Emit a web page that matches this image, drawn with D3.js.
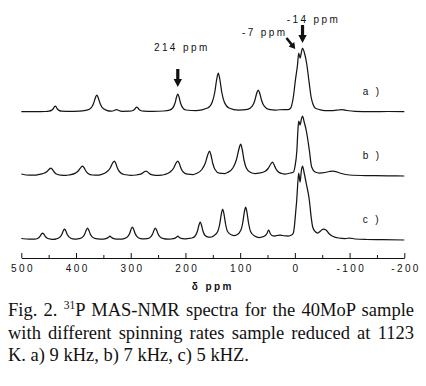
<!DOCTYPE html>
<html>
<head>
<meta charset="utf-8">
<script src="https://cdn.jsdelivr.net/npm/d3@7"></script>
<style>
  body { margin: 0; background: #fff; }
  svg { display: block; }
  .tick text, .lbl { font-family: "Liberation Sans", Arial, sans-serif; font-size: 10px; letter-spacing: 2.4px; fill: #111; }
  .axis path, .axis line { stroke: #111; }
  .caption { font-family: "Liberation Serif", "Times New Roman", serif; font-size: 18.5px; fill: #111; }
</style>
</head>
<body>
<svg id="chart" width="426" height="386"></svg>
<script>
// 31P MAS-NMR spectra, three spinning rates, stacked
const tickVals  = [500, 400, 300, 200, 100, 0, -100, -200];
const minorVals = [450, 350, 250, 150, 50, -50, -150];
const seriesKeys = ['a', 'b', 'c'];
const seriesLabels = ['a)', 'b)', 'c)'];

// [ppm, intensity]
const specA = [
  [500,0.3],[470,0.4],[455,0.5],
  [450,0.8],[445,1.6],[442,3],[439.6,5.2],[438,6],[436.4,5.2],[434,3],[431,1.6],[426,0.8],
  [410,0.6],[395,0.9],
  [380,1.8],[372,4.4],[368,8.5],[364.4,14.6],[362,17],[359.6,14.6],[356,8.5],[352,4.4],[344,1.7],
  [336,0.9],[330,1.5],[326,2.5],[322,1.5],[316,0.7],
  [302,0.8],[296,1.5],[293,2.6],[290.8,4.3],[289,5],[287.2,4.3],[285,2.6],[282,1.5],[276,0.8],
  [260,0.6],[240,1],
  [229,1.9],[222.5,4.7],[219,9],[216,15.5],[214,18],[212,15.5],[209,9],[205.5,4.7],[199,2],
  [180,1.5],
  [159.5,4],[151,10],[146.5,19.5],[142.6,33.5],[140,39],[137.4,33.5],[133.5,19.5],[129,10],[120.5,4],
  [103,1.8],
  [86.5,2.6],[78,5.8],[73.5,11],[69.6,19],[67,22],[64.4,19],[60.5,11],[56,5.8],[47.5,2.6],
  [35,2],[20,2.5],[12,2.5],[7.6,4],[2.8,15],[-1,32],[-5,48],[-7,59],[-9.5,54],[-12,60],[-14,64],
  [-17,60],[-21.7,48],[-25.5,32],[-29.7,15],[-33,8],[-37,4],[-45,2.5],[-55,1.5],
  [-70,1.5],[-80,2],[-86,2.3],[-95,1.5],[-110,0.7],[-140,0.4],[-170,0.5],[-200,0.3]
];

const specB = [
  [500,2],[485,0.8],[475,0.8],
  [470,1.2],[460,2.5],[454,4],[449,6.8],[446,8],[443.6,6.8],[440,4],[436,2],[428,0.8],
  [418,0.6],
  [412,1.2],[402,2.6],[396,5],[391,8.6],[388,10],[385.6,8.6],[382,5],[378,2.6],[370,1],
  [360,0.8],
  [354,1.5],[344,4],[338,7.5],[333,13],[330,15],[327.6,13],[324,7.5],[320,4],[312,1.5],
  [300,0.7],
  [290,1],[284,1.6],[279,2.6],[275,4.3],[272,5],[269.6,4.3],[266,2.6],[262,1.3],[254,0.6],
  [244,0.8],
  [238,1.5],[228,4],[222,7.5],[217,13],[214,15],[211.6,13],[208,7.5],[204,4],[196,1.8],
  [186,1.5],
  [180,2.5],[170,6.5],[164,12.5],[159,21.5],[156,25],[153.6,21.5],[150,12.5],[146,6.5],[138,2.8],
  [128,2.5],
  [123,3.5],[113,8.3],[107,16],[102,27.5],[99,32],[96.6,27.5],[93,16],[89,8.3],[81,3.5],
  [72,2.5],
  [65,3],[55,4.5],[49,7.5],[44,12],[41,14],[38.6,12],[35,7.5],[31,4.5],[24,2.5],
  [18,2],[8,3],[2.4,4],[0,9],[-3.7,26],[-5.5,45],[-7,55],[-9.5,51],[-12,57],[-14,60],[-17,54],
  [-21,45],[-26.4,26],[-30.7,9],[-37,4],[-45,3],
  [-55,3.5],[-63,4.5],[-70,5],[-77,4],[-85,2.5],[-100,1],[-130,0.4],[-170,0.2],[-200,0]
];

const specC = [
  [500,1.5],[485,0.8],
  [476,0.8],[469.5,1.8],[466,3.5],[463,6],[461,7],[459,6],[456,3.5],[452.5,1.8],[446,0.8],
  [441,0.6],
  [436,1.1],[429.5,2.9],[426,5.5],[423,9.5],[421,11],[419,9.5],[416,5.5],[412.5,2.9],[406,1.2],
  [400,1],
  [394,1.3],[387.5,3.1],[384,6],[381,10.3],[379,12],[377,10.3],[374,6],[370.5,3.1],[364,1.3],
  [357,1],
  [350,1],[344,1.6],[341,2.4],[338,4],[335,2.4],[332,1.6],[326,0.9],
  [320,0.8],
  [312,1.4],[305.5,3.4],[302,6.5],[299,11.2],[297,13],[295,11.2],[292,6.5],[288.5,3.4],[282,1.4],
  [276,1.2],
  [270,1.3],[263.5,3.1],[260,6],[257,10.3],[255,12],[253,10.3],[250,6],[246.5,3.1],[240,1.3],
  [232,0.8],
  [226,1],[220,1.6],[217,2.4],[214,4],[211,2.4],[208,1.6],[202,1.2],
  [195,1.5],
  [188,2],[181.5,4.7],[178,9],[175,15.5],[173,18],[171,15.5],[168,9],[164.5,4.7],[158,2.8],
  [152,3],
  [148.5,4],[141,8.5],[137.5,15.5],[134.2,26.7],[132,31],[129.8,26.7],[126.5,15.5],[123,8.5],[115.5,5],
  [111,4.5],
  [106.5,5],[99,9.5],[95.5,16.5],[92.2,28.4],[90,33],[87.8,28.4],[84.5,16.5],[81,8.6],[73.5,4],
  [65,2.5],
  [60,3],[54,4.5],[51,6.5],[48,10],[45,6.5],[42,4.5],
  [37,4],[32,4.5],[27,5],[22,4.5],[17,4.2],
  [12,4],[6,5],[2.8,7],[1,13],[-1.5,28],[-3.4,40],[-5.5,58],[-7,67],[-9.5,58],[-12,70],[-14,74],
  [-17,67],[-21,56],[-26.4,40],[-30,22],[-32.6,13],[-37,8.5],[-41.8,7],[-47,9],[-52,11],[-57,10],
  [-63,6],[-70,3.5],[-80,2],[-92,1.5],[-100,2],[-110,1],[-130,0.5],[-160,0.3],[-200,0]
];

const spectra = { a: specA, b: specB, c: specC };

// annotated peaks
const noteLabels = ['214 ppm', '-14 ppm', '-7 ppm'];

const captionLines = [
  'with different spinning rates sample reduced at 1123',
  'K. a) 9 kHz, b) 7 kHz, c) 5 kHZ.'
];

const svg = d3.select('#chart');

const x = d3.scaleLinear().domain([500, -200]).range([21.3, 404.3]);
const yBase = d3.scalePoint().domain(seriesKeys).range([112, 240]);
const yOf = k => d3.scaleLinear().domain([0, 100]).range([yBase(k), yBase(k) - 100]);

// spectra
const line = d3.line().curve(d3.curveMonotoneX);
seriesKeys.forEach((k, i) => {
    const y = yOf(k);
    svg.append('path')
        .datum(spectra[k])
        .attr('fill', 'none')
        .attr('stroke', '#151515')
        .attr('stroke-width', 1.25)
        .attr('stroke-linejoin', 'round')
        .attr('d', line.x(d => x(d[0])).y(d => y(d[1])));

    svg.append('text')
        .attr('class', 'lbl')
        .attr('x', x(-124))
        .attr('y', yBase(k) - 17)
        .text(seriesLabels[i].split('').join(' '));
});

// axis
const axisY = 258;
const gx = svg.append('g')
    .attr('class', 'axis')
    .attr('transform', `translate(0,${axisY})`)
    .call(d3.axisBottom(x).tickValues(tickVals).tickSizeInner(-5).tickSizeOuter(0).tickPadding(7)
        .tickFormat(d => d));
gx.selectAll('.tick text').attr('dx', '1.2');
svg.append('g')
    .attr('class', 'axis')
    .attr('transform', `translate(0,${axisY})`)
    .call(d3.axisBottom(x).tickValues(minorVals).tickSizeInner(-3).tickSizeOuter(0).tickFormat(''))
    .select('.domain').remove();

svg.append('text')
    .attr('class', 'lbl')
    .attr('x', (x(500) + x(-200)) / 2)
    .attr('y', axisY + 32)
    .attr('text-anchor', 'middle')
    .style('font-weight', 'bold')
    .text('\u03b4 ppm');

// arrows + notes
function downArrow(cx, tip) {
    const p = d3.path();
    p.moveTo(cx - 1.6, tip - 18);
    p.lineTo(cx + 1.6, tip - 18);
    p.lineTo(cx + 1.6, tip - 8);
    p.lineTo(cx + 4.2, tip - 8);
    p.lineTo(cx, tip);
    p.lineTo(cx - 4.2, tip - 8);
    p.lineTo(cx - 1.6, tip - 8);
    p.closePath();
    return p.toString();
}

const yA = yOf('a');
// 214 ppm
svg.append('path').attr('d', downArrow(x(214), yA(18) - 7)).attr('fill', '#111');
svg.append('text').attr('class', 'lbl')
    .attr('x', x(214) + 4).attr('y', yA(18) - 43)
    .attr('text-anchor', 'middle').text(noteLabels[0]);
// -14 ppm
svg.append('path').attr('d', downArrow(x(-14), yA(64) - 5)).attr('fill', '#111');
svg.append('text').attr('class', 'lbl')
    .attr('x', x(-14) + 11).attr('y', yA(64) - 25)
    .attr('text-anchor', 'middle').text(noteLabels[1]);
// -7 ppm, diagonal arrow
{
    const tx = x(-7) - 3.5, ty = yA(59) - 4;
    const ang = Math.atan2(11.3, 9);
    const g = svg.append('g').attr('transform', `translate(${tx},${ty}) rotate(${ang * 180 / Math.PI - 90})`);
    g.append('path').attr('fill', '#111')
        .attr('d', 'M-1.3,-14L1.3,-14L1.3,-6L3.6,-6L0,0L-3.6,-6L-1.3,-6Z');
    svg.append('text').attr('class', 'lbl')
        .attr('x', x(-7) - 34).attr('y', yA(59) - 17)
        .attr('text-anchor', 'middle').text(noteLabels[2]);
}

// caption
const capX = 8, capRight = 414, capY0 = 316, capDy = 22.5;
const cap1 = svg.append('text').attr('class', 'caption').attr('x', capX).attr('y', capY0);
cap1.append('tspan').text('Fig. 2. ');
cap1.append('tspan').attr('dy', -7).style('font-size', '11.5px').text('31');
cap1.append('tspan').attr('dy', 7).text('P MAS-NMR spectra for the 40MoP sample');
const cap2 = svg.append('text').attr('class', 'caption').attr('x', capX).attr('y', capY0 + capDy)
    .text(captionLines[0]);
svg.append('text').attr('class', 'caption').attr('x', capX).attr('y', capY0 + 2 * capDy)
    .text(captionLines[1]);

// justify the first two caption lines
[[cap1, 8], [cap2, 7]].forEach(([t, n]) => {
    const len = t.node().getComputedTextLength();
    t.style('word-spacing', ((capRight - capX - len) / n) + 'px');
});
</script>
</body>
</html>
